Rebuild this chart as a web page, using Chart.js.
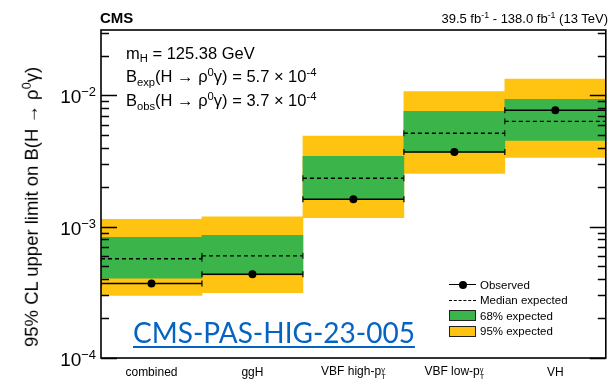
<!DOCTYPE html>
<html>
<head>
<meta charset="utf-8">
<script src="https://cdn.jsdelivr.net/npm/chart.js@4.4.1/dist/chart.umd.min.js"></script>
<style>
  html, body { margin: 0; padding: 0; background: #fff; }
  #wrap { position: relative; width: 611px; height: 386px; overflow: hidden; font-family: "Liberation Sans", Arial, sans-serif; color: #000; }
  #c { position: absolute; left: 0; top: 0; }
  .txt { position: absolute; white-space: nowrap; line-height: 1; }
  .sup { font-size: 0.68em; vertical-align: 0.55em; }
  .sub { font-size: 0.68em; vertical-align: -0.3em; }
  .stack { display: inline-flex; flex-direction: column; font-size: 0.62em; line-height: 0.95; vertical-align: 0.35em; }
  .ytick { position: absolute; font-size: 19px; white-space: nowrap; transform: translate(-100%, -50%); }
  .xlab { position: absolute; font-size: 12px; white-space: nowrap; transform: translate(-50%, -50%); }
  #legend { position: absolute; left: 449px; top: 277px; font-size: 11.5px; }
  .lrow { height: 15.5px; display: flex; align-items: center; }
  .lsym { width: 27px; height: 11px; margin-right: 4px; box-sizing: border-box; position: relative; }
  .box { border: 1px solid #222; }
</style>
</head>
<body>
<div id="wrap">
  <canvas id="c" width="611" height="386"></canvas>

  <div class="txt" style="left:100px; top:10px; font-weight:bold; font-size:15px;">CMS</div>
  <div class="txt" style="right:3px; top:11px; font-size:13px;">39.5 fb<span class="sup">-1</span> - 138.0 fb<span class="sup">-1</span> (13 TeV)</div>

  <div class="txt" style="left:126px; top:45px; font-size:16.5px;">m<span class="sub">H</span> = 125.38 GeV</div>
  <div class="txt" style="left:126px; top:67px; font-size:16.5px;">B<span class="sub">exp</span>(H &rarr; &rho;<span class="sup">0</span>&gamma;) = 5.7 &times; 10<span class="sup">-4</span></div>
  <div class="txt" style="left:126px; top:91px; font-size:16.5px;">B<span class="sub">obs</span>(H &rarr; &rho;<span class="sup">0</span>&gamma;) = 3.7 &times; 10<span class="sup">-4</span></div>

  <div class="txt" style="left:31px; top:207px; font-size:18.5px; transform: translate(-50%, -50%) rotate(-90deg);">95% CL upper limit on B(H &rarr; &rho;<span class="sup">0</span>&gamma;)</div>

  <div class="txt" style="left:133px; top:318px; font-family: Lato, 'Open Sans', sans-serif; font-size:28px; color:#0563C1; text-decoration: underline; text-decoration-thickness: 1.5px; text-underline-offset: 3px;">CMS-PAS-HIG-23-005</div>

  <div id="legend"></div>
</div>

<script>
// Categories (analysis channels)
const categories = ['combined', 'ggH', 'VBF high-p<span class="stack"><span>&gamma;</span><span>T</span></span>', 'VBF low-p<span class="stack"><span>&gamma;</span><span>T</span></span>', 'VH'];

// 95% CL upper limits on B(H -> rho0 gamma)
const observed    = [3.7e-4, 4.35e-4, 1.62e-3, 3.7e-3, 7.7e-3];
const expMedian   = [5.7e-4, 6.0e-4, 2.34e-3, 5.15e-3, 6.35e-3];
const exp68Low    = [4.05e-4, 4.3e-4, 1.62e-3, 3.7e-3, 4.55e-3];
const exp68High   = [8.3e-4, 8.6e-4, 3.43e-3, 7.55e-3, 9.35e-3];
const exp95Low    = [3.0e-4, 3.15e-4, 1.17e-3, 2.55e-3, 3.37e-3];
const exp95High   = [1.14e-3, 1.19e-3, 4.9e-3, 1.07e-2, 1.33e-2];

// Y axis range and labelled decades
const yMin = 1e-4;
const yMax = 0.0315;
const yTickDecades = [1e-4, 1e-3, 1e-2];

const COL95 = '#FFC412';
const COL68 = '#3BB44A';

// horizontal segment per category bin, separated by gaps
function binSegments(vals) {
  const pts = [];
  vals.forEach((v, i) => {
    pts.push({ x: i, y: v }, { x: i + 1, y: v }, { x: i + 1, y: null });
  });
  return pts;
}
const binCentres = vals => vals.map((v, i) => ({ x: i + 0.5, y: v }));
const capRadius = ctx => (ctx.raw && ctx.raw.y !== null ? 3 : 0);

// frame and inward minor/major ticks on both vertical axes
const framePlugin = {
  id: 'frame',
  afterDatasetsDraw(chart) {
    const { ctx, chartArea: a, scales: { y } } = chart;
    ctx.save();
    ctx.strokeStyle = '#000';
    ctx.lineWidth = 1.3;
    for (let d = -4; d <= -1; d++) {
      for (let m = 1; m <= 9; m++) {
        const v = m * Math.pow(10, d);
        if (v < yMin * 0.999 || v > yMax) continue;
        const py = Math.round(y.getPixelForValue(v)) + 0.5;
        const len = m === 1 ? 16 : 8;
        ctx.beginPath();
        ctx.moveTo(a.left, py); ctx.lineTo(a.left + len, py);
        ctx.moveTo(a.right, py); ctx.lineTo(a.right - len, py);
        ctx.stroke();
      }
    }
    ctx.lineWidth = 1.6;
    ctx.strokeRect(a.left, a.top, a.right - a.left, a.bottom - a.top);
    ctx.restore();
  }
};

// HTML tick labels placed through the chart scales
const labelPlugin = {
  id: 'htmlLabels',
  afterRender(chart) {
    if (chart.$labelsDone) return;
    chart.$labelsDone = true;
    const wrap = document.getElementById('wrap');
    const { chartArea: a, scales: { x, y } } = chart;
    yTickDecades.forEach(v => {
      const el = document.createElement('div');
      el.className = 'ytick';
      el.innerHTML = '10<span class="sup">&minus;' + Math.round(-Math.log10(v)) + '</span>';
      el.style.left = (a.left - 5) + 'px';
      el.style.top = (y.getPixelForValue(v) + 1) + 'px';
      wrap.appendChild(el);
    });
    categories.forEach((c, i) => {
      const el = document.createElement('div');
      el.className = 'xlab';
      el.innerHTML = c;
      el.style.left = x.getPixelForValue(i) + 'px';
      el.style.top = (a.bottom + 14) + 'px';
      wrap.appendChild(el);
    });
  }
};

const chart = new Chart(document.getElementById('c'), {
  type: 'bar',
  data: {
    labels: categories,
    datasets: [
      {
        label: '95% expected',
        data: exp95Low.map((lo, i) => [lo, exp95High[i]]),
        backgroundColor: COL95, borderWidth: 0,
        barPercentage: 1, categoryPercentage: 1, grouped: false, order: 5
      },
      {
        label: '68% expected',
        data: exp68Low.map((lo, i) => [lo, exp68High[i]]),
        backgroundColor: COL68, borderWidth: 0,
        barPercentage: 1, categoryPercentage: 1, grouped: false, order: 4
      },
      {
        type: 'line', label: 'Median expected', xAxisID: 'xe',
        data: binSegments(expMedian),
        borderColor: '#000', borderWidth: 1.3, borderDash: [4, 3],
        pointStyle: 'line', rotation: 90, pointRadius: capRadius,
        pointBorderColor: '#000', pointBorderWidth: 1,
        spanGaps: false, order: 3
      },
      {
        type: 'line', label: 'Observed line', xAxisID: 'xe',
        data: binSegments(observed),
        borderColor: '#000', borderWidth: 1.5,
        pointStyle: 'line', rotation: 90, pointRadius: capRadius,
        pointBorderColor: '#000', pointBorderWidth: 1.2,
        spanGaps: false, order: 2
      },
      {
        type: 'line', label: 'Observed', xAxisID: 'xe',
        data: binCentres(observed),
        showLine: false, pointRadius: 4, pointBackgroundColor: '#000',
        pointBorderColor: '#000', pointBorderWidth: 0, order: 1
      }
    ]
  },
  options: {
    responsive: false,
    animation: false,
    devicePixelRatio: 1,
    layout: { padding: { left: 101, right: 2, top: 30, bottom: 28 } },
    plugins: { legend: { display: false }, tooltip: { enabled: false } },
    scales: {
      x: { type: 'category', display: false, offset: true },
      xe: { type: 'linear', display: false, min: 0, max: 5, offset: false, grid: { offset: false } },
      y: { type: 'logarithmic', display: false, min: yMin, max: yMax }
    }
  },
  plugins: [framePlugin, labelPlugin]
});

// legend built from the dataset styles
const legendEntries = [
  { text: 'Observed', kind: 'obs' },
  { text: 'Median expected', kind: 'med' },
  { text: '68% expected', kind: 'box', color: COL68 },
  { text: '95% expected', kind: 'box', color: COL95 }
];
const legend = document.getElementById('legend');
legendEntries.forEach(e => {
  const row = document.createElement('div');
  row.className = 'lrow';
  const sym = document.createElement('div');
  sym.className = 'lsym';
  if (e.kind === 'box') {
    sym.classList.add('box');
    sym.style.background = e.color;
  } else if (e.kind === 'obs') {
    sym.innerHTML = '<div style="position:absolute;left:0;right:0;top:5px;border-top:1.5px solid #000"></div>' +
      '<div style="position:absolute;left:9.5px;top:1.5px;width:8px;height:8px;border-radius:50%;background:#000"></div>';
  } else {
    sym.innerHTML = '<div style="position:absolute;left:0;right:0;top:5px;border-top:1.3px dashed #000"></div>';
  }
  const t = document.createElement('span');
  t.textContent = e.text;
  row.appendChild(sym);
  row.appendChild(t);
  legend.appendChild(row);
});
</script>
</body>
</html>
